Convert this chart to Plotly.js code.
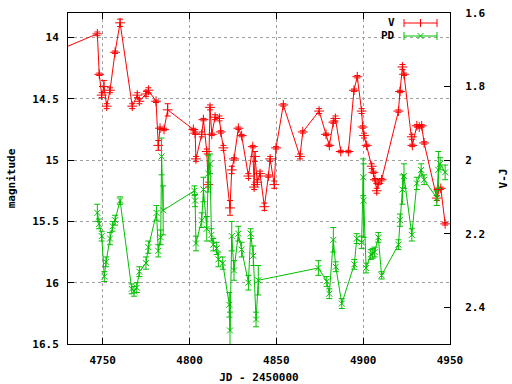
<!DOCTYPE html>
<html>
<head>
<meta charset="utf-8">
<script src="https://cdn.plot.ly/plotly-3.0.1.min.js"></script>
<style>html,body{margin:0;padding:0;background:#fff;}#chart{width:512px;height:384px;}</style>
</head>
<body>
<div id="chart"></div>
<script>
// V band (red)
const jdV = [4720, 4746.9, 4748.0, 4749.4, 4750.7, 4752.3, 4754.2, 4757.1, 4760.0, 4767.0,
  4769.9, 4771.1, 4774.9, 4776.3, 4780.7, 4782.0, 4783.0, 4785.3, 4787.4, 4802.2,
  4803.2, 4803.7, 4807.0, 4808.0, 4809.9, 4810.8, 4811.8, 4812.8, 4814.7, 4817.2,
  4818.0, 4819.5, 4823.3, 4824.3, 4825.6, 4828.1, 4830.0, 4833.9, 4836.4, 4837.2,
  4837.7, 4839.0, 4840.6, 4843.1, 4845.4, 4846.4, 4848.8, 4849.8, 4854.0, 4863.6,
  4865.2, 4874.6, 4878.6, 4880.5, 4882.8, 4884.0, 4887.1, 4891.5, 4894.7, 4896.6,
  4899.1, 4899.7, 4900.5, 4902.0, 4904.9, 4905.9, 4906.8, 4907.8, 4908.7, 4910.6,
  4920.3, 4921.2, 4922.6, 4923.5, 4928.0, 4928.3, 4930.9, 4932.3, 4933.7, 4935.1,
  4942.4, 4943.3, 4944.7, 4947.2];
const magV = [14.13, 13.97, 14.30, 14.47, 14.40, 14.56, 14.43, 14.12, 13.88, 14.56,
  14.47, 14.52, 14.46, 14.43, 14.52, 14.88, 14.74, 14.75, 14.59, 14.75,
  14.78, 14.99, 14.79, 14.67, 14.93, 15.20, 14.57, 14.79, 14.65, 14.66,
  14.77, 14.90, 15.39, 15.08, 14.99, 14.74, 14.80, 15.13, 14.89, 15.22,
  14.97, 15.18, 15.11, 15.38, 15.13, 14.99, 15.20, 14.90, 14.55, 14.97,
  14.77, 14.60, 14.79, 14.88, 14.69, 14.66, 14.93, 14.93, 14.43, 14.32,
  14.60, 14.73, 14.80, 14.88, 15.05, 15.10, 15.16, 15.25, 15.19, 15.16,
  14.60, 14.44, 14.24, 14.30, 14.81, 14.88, 14.72, 14.73, 14.72, 14.86,
  15.31, 15.24, 15.23, 15.52];
const errV = [0.01,0.015,0.01,0.02,0.05,0.02,0.02,0.01,0.03,0.02,
  0.02,0.02,0.02,0.02,0.01,0.04,0.01,0.01,0.05,0.01,
  0.01,0.02,0.02,0.01,0.02,0.02,0.02,0.01,0.02,0.02,
  0.01,0.02,0.06,0.03,0.01,0.01,0.01,0.02,0.01,0.02,
  0.04,0.02,0.02,0.03,0.01,0.02,0.03,0.01,0.01,0.02,
  0.01,0.02,0.01,0.01,0.01,0.02,0.01,0.01,0.01,0.01,
  0.02,0.01,0.02,0.01,0.02,0.01,0.01,0.02,0.01,0.01,
  0.01,0.01,0.02,0.01,0.02,0.01,0.01,0.01,0.01,0.01,
  0.02,0.01,0.01,0.01];

// PD (green)
const jdP = [4746.9, 4747.9, 4749.4, 4750.9, 4751.9, 4754.2, 4755.7, 4757.1, 4760.0, 4766.7,
  4768.0, 4769.6, 4771.1, 4774.9, 4776.3, 4781.0, 4782.0, 4783.4, 4783.9, 4784.8,
  4802.8, 4803.2, 4803.7, 4807.0, 4808.0, 4809.9, 4810.8, 4811.8, 4812.6, 4813.7,
  4815.6, 4816.6, 4819.1, 4822.9, 4823.3, 4824.3, 4825.6, 4828.1, 4830.0, 4833.9,
  4835.2, 4836.7, 4838.3, 4839.6, 4874.2, 4879.0, 4880.5, 4882.8, 4884.2, 4887.7,
  4894.9, 4896.3, 4899.1, 4900.0, 4900.3, 4901.7, 4904.4, 4905.5, 4906.6, 4908.7,
  4910.6, 4920.3, 4921.2, 4922.6, 4923.5, 4928.0, 4930.9, 4933.4, 4935.1, 4942.4,
  4943.3, 4944.3, 4947.2];
const magP = [15.43, 15.52, 15.62, 15.95, 15.83, 15.64, 15.54, 15.49, 15.33, 16.05,
  16.07, 16.04, 15.91, 15.84, 15.71, 15.43, 15.74, 15.63, 14.97, 15.41,
  15.25, 15.33, 15.68, 15.49, 15.24, 15.56, 15.11, 15.03, 15.61, 15.69,
  15.72, 15.81, 15.84, 16.18, 16.39, 15.62, 15.90, 15.60, 15.73, 16.00,
  15.60, 15.78, 16.30, 15.98, 15.88, 15.99, 16.09, 15.65, 15.87, 16.17,
  15.85, 15.64, 15.67, 15.14, 15.33, 15.88, 15.77, 15.76, 15.75, 15.63,
  15.94, 15.69, 15.49, 15.24, 15.13, 15.61, 15.19, 15.08, 15.16, 15.31,
  15.08, 15.03, 15.10];
const errP = [0.07,0.04,0.04,0.04,0.04,0.05,0.04,0.04,0.03,0.04,
  0.04,0.04,0.04,0.05,0.05,0.06,0.05,0.06,0.15,0.2,
  0.04,0.05,0.06,0.06,0.1,0.1,0.15,0.08,0.05,0.05,
  0.05,0.06,0.05,0.1,0.15,0.12,0.08,0.06,0.06,0.06,
  0.04,0.08,0.06,0.12,0.06,0.04,0.04,0.1,0.04,0.04,
  0.04,0.04,0.05,0.15,0.3,0.04,0.04,0.04,0.04,0.04,
  0.03,0.04,0.05,0.12,0.1,0.05,0.05,0.05,0.04,0.06,
  0.15,0.05,0.06];

const xTicks = [4750, 4800, 4850, 4900, 4950];
const yTicks = [14, 14.5, 15, 15.5, 16, 16.5];
const y2Ticks = [1.6, 1.8, 2, 2.2, 2.4];

const RED = '#ff0000', GREEN = '#00c000';
const FONT = {family: 'DejaVu Sans Mono, monospace', size: 11, color: '#000', weight: 'bold'};

const traces = [
  {x: jdV, y: magV, type: 'scatter', mode: 'lines+markers', name: 'V',
   line: {color: RED, width: 1},
   marker: {symbol: 'cross-thin', size: 7, line: {color: RED, width: 1}, color: RED},
   error_y: {type: 'data', array: errV, visible: true, color: RED, thickness: 1, width: 3},
   cliponaxis: true, showlegend: false},
  {x: jdP, y: magP, type: 'scatter', mode: 'lines+markers', name: 'PD',
   line: {color: GREEN, width: 1},
   marker: {symbol: 'x-thin', size: 6, line: {color: GREEN, width: 1}, color: GREEN},
   error_y: {type: 'data', array: errP, visible: true, color: GREEN, thickness: 1, width: 3},
   cliponaxis: true, showlegend: false},
  {x: [null], y: [null], yaxis: 'y2', type: 'scatter', mode: 'markers', showlegend: false, hoverinfo: 'skip'}
];

// legend drawn manually (key text left of sample, gnuplot style)
const L = 68, R = 450, T = 13, B = 344;
const px = v => (v - L) / (R - L);
const py = v => (B - v) / (B - T);
const shapes = [];
function keySample(yPix, color, sym) {
  const x0 = 404, x1 = 437, xm = 420.5;
  const ln = (a, b, c, d) => shapes.push({type: 'line', xref: 'paper', yref: 'paper',
    x0: px(a), y0: py(b), x1: px(c), y1: py(d), line: {color: color, width: 1}});
  ln(x0, yPix, x1, yPix);
  ln(x0, yPix - 4, x0, yPix + 4);
  ln(x1, yPix - 4, x1, yPix + 4);
  if (sym === '+') {
    ln(xm, yPix - 4, xm, yPix + 4);
  } else {
    ln(xm - 3, yPix - 3, xm + 3, yPix + 3);
    ln(xm - 3, yPix + 3, xm + 3, yPix - 3);
  }
}
keySample(23, RED, '+');
keySample(36, GREEN, 'x');

const annotations = [
  {xref: 'paper', yref: 'paper', x: px(397), y: py(23), text: 'V', showarrow: false,
   xanchor: 'right', yanchor: 'middle', font: FONT},
  {xref: 'paper', yref: 'paper', x: px(397), y: py(36), text: 'PD', showarrow: false,
   xanchor: 'right', yanchor: 'middle', font: FONT}
];

const layout = {
  width: 512, height: 384,
  margin: {l: L, r: 512 - R, t: T, b: 384 - B, pad: 0},
  paper_bgcolor: '#fff', plot_bgcolor: '#fff',
  font: FONT,
  showlegend: false,
  xaxis: {range: [4730, 4950], tickvals: xTicks, ticks: 'inside', ticklen: 6, tickcolor: '#000',
    showline: true, linecolor: '#000', linewidth: 1, mirror: 'ticks', zeroline: false,
    showgrid: true, gridcolor: '#a0a0a0', griddash: 'dot', gridwidth: 1,
    title: {text: 'JD - 2450000', font: FONT, standoff: 8}, tickfont: FONT, ticklabelstandoff: 6},
  yaxis: {range: [16.5, 13.8], tickvals: yTicks, ticks: 'inside', ticklen: 6, tickcolor: '#000',
    showline: true, linecolor: '#000', linewidth: 1, zeroline: false,
    showgrid: true, gridcolor: '#a0a0a0', griddash: 'dot', gridwidth: 1,
    title: {text: 'magnitude', font: FONT, standoff: 14}, tickfont: FONT, ticklabelstandoff: 6},
  yaxis2: {range: [2.5, 1.6], tickvals: y2Ticks, overlaying: 'y', side: 'right',
    ticks: 'inside', ticklen: 6, tickcolor: '#000', showline: true, linecolor: '#000', linewidth: 1,
    showgrid: false, zeroline: false,
    title: {text: 'V-J', font: FONT, standoff: 14}, tickfont: FONT, ticklabelstandoff: 12},
  shapes: shapes,
  annotations: annotations
};

Plotly.newPlot('chart', traces, layout, {staticPlot: true, displayModeBar: false});
</script>
</body>
</html>
